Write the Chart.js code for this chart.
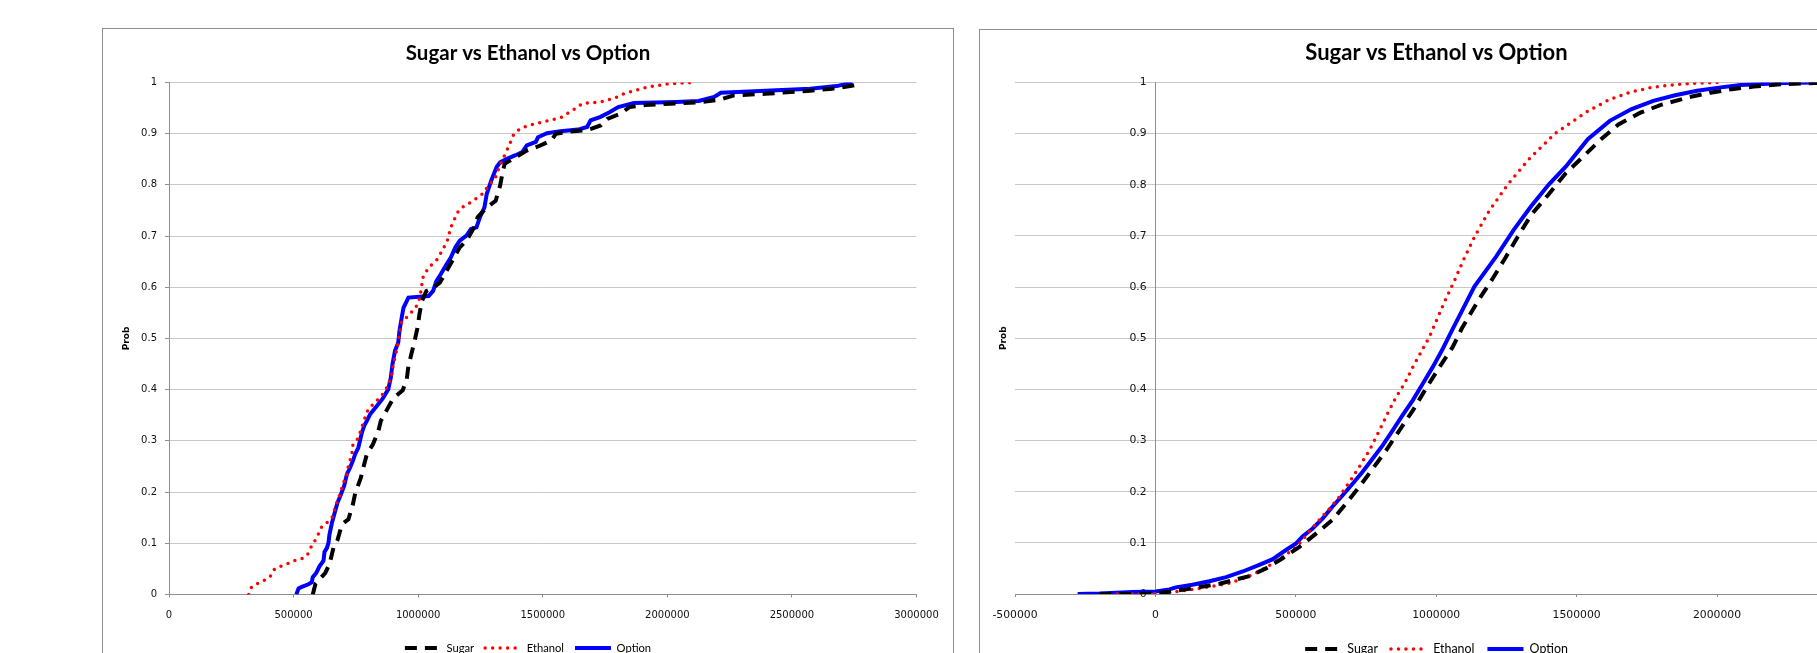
<!DOCTYPE html>
<html>
<head>
<meta charset="utf-8">
<script src="https://cdn.jsdelivr.net/npm/chart.js@4/dist/chart.umd.min.js"></script>
<style>
html, body { margin: 0; padding: 0; width: 1817px; height: 653px; overflow: hidden; background: #fff; }
.box { position: absolute; border: 1px solid #8e8e8e; background: #fff; }
#box1 { left: 102px; top: 28px; width: 850px; height: 645px; }
#box2 { left: 979px; top: 29px; width: 913px; height: 645px; }
canvas { display: block; }
</style>
</head>
<body>
<div class="box" id="box1"><canvas id="c1" width="850" height="645"></canvas></div>
<div class="box" id="box2"><canvas id="c2" width="913" height="645"></canvas></div>
<script>
// left chart: observed outcomes (step-like CDFs)
const sugarX1 = [577000, 588000, 627000, 644000, 660000, 676000, 694000, 720000, 738000, 747000, 770000, 780000, 794000, 818000, 840000, 850000, 876000, 900000, 938000, 954000, 961000, 974000, 987000, 997000, 1005000, 1015000, 1033000, 1060000, 1087000, 1114000, 1137000, 1167000, 1194000, 1221000, 1239000, 1275000, 1311000, 1329000, 1338000, 1347000, 1391000, 1436000, 1481000, 1535000, 1553000, 1624000, 1678000, 1732000, 1759000, 1812000, 1848000, 1911000, 2036000, 2143000, 2215000, 2268000, 2394000, 2573000, 2662000, 2734000, 2779000];
const sugarP1 = [0, 0.021, 0.042, 0.059, 0.091, 0.106, 0.137, 0.147, 0.176, 0.197, 0.228, 0.248, 0.274, 0.293, 0.319, 0.339, 0.362, 0.383, 0.399, 0.420, 0.446, 0.472, 0.498, 0.520, 0.547, 0.573, 0.593, 0.599, 0.609, 0.632, 0.652, 0.678, 0.691, 0.714, 0.737, 0.756, 0.769, 0.799, 0.822, 0.841, 0.854, 0.867, 0.875, 0.887, 0.900, 0.905, 0.907, 0.916, 0.929, 0.939, 0.952, 0.956, 0.959, 0.962, 0.967, 0.975, 0.978, 0.984, 0.988, 0.993, 0.998];

const ethanolX1 = [320000, 329000, 353000, 380000, 407000, 420000, 447000, 476000, 503000, 533000, 556000, 567000, 583000, 596000, 609000, 633000, 654000, 671000, 687000, 700000, 714000, 720000, 734000, 738000, 760000, 774000, 791000, 800000, 831000, 863000, 880000, 894000, 900000, 910000, 920000, 927000, 934000, 961000, 978000, 994000, 1007000, 1019000, 1042000, 1073000, 1096000, 1117000, 1131000, 1158000, 1176000, 1221000, 1257000, 1280000, 1311000, 1325000, 1347000, 1365000, 1382000, 1409000, 1445000, 1499000, 1571000, 1621000, 1660000, 1732000, 1786000, 1821000, 1866000, 1929000, 2000000, 2099000];
const ethanolP1 = [0, 0.013, 0.021, 0.027, 0.036, 0.048, 0.055, 0.060, 0.066, 0.070, 0.078, 0.090, 0.103, 0.114, 0.130, 0.140, 0.150, 0.176, 0.197, 0.218, 0.235, 0.251, 0.274, 0.292, 0.306, 0.327, 0.352, 0.362, 0.377, 0.394, 0.410, 0.430, 0.450, 0.469, 0.495, 0.515, 0.534, 0.544, 0.554, 0.564, 0.580, 0.619, 0.639, 0.652, 0.671, 0.691, 0.717, 0.746, 0.756, 0.769, 0.782, 0.797, 0.815, 0.835, 0.858, 0.877, 0.897, 0.910, 0.916, 0.923, 0.931, 0.946, 0.959, 0.962, 0.969, 0.977, 0.984, 0.992, 0.997, 1];

const optionX1 = [511000, 520000, 533000, 560000, 573000, 577000, 591000, 604000, 620000, 624000, 634000, 640000, 644000, 654000, 667000, 676000, 687000, 703000, 714000, 727000, 738000, 747000, 760000, 774000, 783000, 794000, 807000, 834000, 858000, 880000, 890000, 897000, 907000, 920000, 925000, 934000, 941000, 954000, 961000, 1042000, 1060000, 1073000, 1090000, 1114000, 1131000, 1149000, 1167000, 1194000, 1212000, 1234000, 1248000, 1266000, 1275000, 1293000, 1315000, 1329000, 1356000, 1391000, 1418000, 1436000, 1472000, 1481000, 1517000, 1571000, 1642000, 1678000, 1692000, 1732000, 1768000, 1803000, 1866000, 2036000, 2126000, 2188000, 2215000, 2394000, 2573000, 2680000, 2743000];
const optionP1 = [0, 0.012, 0.015, 0.020, 0.024, 0.034, 0.042, 0.055, 0.066, 0.083, 0.091, 0.101, 0.117, 0.140, 0.163, 0.179, 0.192, 0.212, 0.235, 0.248, 0.261, 0.274, 0.287, 0.316, 0.329, 0.339, 0.352, 0.368, 0.383, 0.401, 0.423, 0.450, 0.476, 0.492, 0.515, 0.541, 0.560, 0.573, 0.580, 0.583, 0.593, 0.612, 0.625, 0.645, 0.658, 0.678, 0.691, 0.701, 0.714, 0.717, 0.737, 0.756, 0.782, 0.808, 0.835, 0.844, 0.851, 0.858, 0.864, 0.877, 0.884, 0.893, 0.901, 0.905, 0.908, 0.913, 0.926, 0.933, 0.942, 0.952, 0.960, 0.962, 0.964, 0.972, 0.980, 0.984, 0.988, 0.993, 1];

// right chart: smooth CDFs
const sugarX2 = [-200000, -100000, 2000, 109000, 228000, 335000, 394000, 453000, 513000, 572000, 631000, 679000, 727000, 774000, 822000, 869000, 917000, 964000, 1012000, 1059000, 1092000, 1151000, 1198000, 1245000, 1291000, 1338000, 1400000, 1462000, 1525000, 1587000, 1649000, 1727000, 1805000, 1898000, 1976000, 2053000, 2131000, 2240000, 2346000, 2450000];
const sugarP2 = [0, 0, 0.001, 0.009, 0.020, 0.035, 0.050, 0.070, 0.092, 0.118, 0.145, 0.177, 0.210, 0.245, 0.281, 0.320, 0.359, 0.402, 0.444, 0.483, 0.520, 0.575, 0.614, 0.656, 0.699, 0.741, 0.781, 0.823, 0.856, 0.889, 0.918, 0.941, 0.957, 0.971, 0.980, 0.987, 0.992, 0.997, 0.999, 1];

const ethanolX2 = [-190000, -89000, 2000, 61000, 121000, 180000, 263000, 317000, 370000, 418000, 453000, 489000, 519000, 548000, 584000, 620000, 655000, 691000, 727000, 762000, 798000, 827000, 857000, 887000, 917000, 946000, 976000, 1027000, 1066000, 1097000, 1138000, 1190000, 1254000, 1330000, 1422000, 1478000, 1540000, 1618000, 1696000, 1773000, 1851000, 1929000, 2020000];
const ethanolP2 = [0, 0, 0.001, 0.004, 0.008, 0.013, 0.021, 0.031, 0.044, 0.060, 0.073, 0.086, 0.102, 0.122, 0.145, 0.167, 0.190, 0.219, 0.249, 0.281, 0.320, 0.353, 0.385, 0.411, 0.444, 0.473, 0.503, 0.568, 0.614, 0.653, 0.700, 0.750, 0.800, 0.850, 0.900, 0.921, 0.944, 0.967, 0.982, 0.991, 0.996, 0.999, 1];

const optionX2 = [-277000, -199000, -81000, 2000, 50000, 73000, 132000, 192000, 252000, 311000, 370000, 418000, 465000, 501000, 525000, 560000, 596000, 631000, 667000, 703000, 738000, 774000, 810000, 845000, 881000, 917000, 952000, 988000, 1024000, 1053000, 1136000, 1214000, 1276000, 1338000, 1400000, 1462000, 1540000, 1618000, 1696000, 1773000, 1851000, 1929000, 2007000, 2084000, 2162000, 2240000, 2346000, 2450000];
const optionP2 = [0, 0.001, 0.004, 0.005, 0.009, 0.013, 0.018, 0.025, 0.033, 0.044, 0.057, 0.068, 0.086, 0.099, 0.113, 0.128, 0.148, 0.171, 0.193, 0.216, 0.239, 0.265, 0.291, 0.320, 0.350, 0.379, 0.411, 0.444, 0.480, 0.512, 0.601, 0.660, 0.712, 0.758, 0.800, 0.836, 0.889, 0.925, 0.948, 0.964, 0.975, 0.984, 0.990, 0.995, 0.997, 0.999, 1, 1];

const chartTitle = 'Sugar vs Ethanol vs Option';
const yTitle = 'Prob';

Chart.defaults.font.family = 'DejaVu Sans';
Chart.defaults.color = '#111';

function pts(xs, ps) {
    return xs.map((x, i) => ({ x: x, y: ps[i] }));
}

function makeSets(sx, sp, ex, ep, ox, op) {
    return [
        { label: 'Sugar', data: pts(sx, sp), borderColor: '#000000', backgroundColor: '#000000',
          borderWidth: 4, borderDash: [12, 8], showLine: true, pointRadius: 0 },
        { label: 'Ethanol', data: pts(ex, ep), borderColor: '#ff0000', backgroundColor: '#ff0000',
          borderWidth: 3.5, borderDash: [0, 7.5], borderCapStyle: 'round', showLine: true, pointRadius: 0 },
        { label: 'Option', data: pts(ox, op), borderColor: '#0000ff', backgroundColor: '#0000ff',
          borderWidth: 4, showLine: true, pointRadius: 0 }
    ];
}

const gridColor = '#c8c8c8';
const axisColor = '#8e8e8e';
const fmtX = v => String(v);
const fmtY = v => String(Math.round(v * 10) / 10);
// the crossing axis gets almost no label gap from the library, so pad the text
const fmtYCross = v => fmtY(v) + '\u2002 ';

// legend samples should carry the dataset's dash pattern
function legendItems(chart) {
    return Chart.defaults.plugins.legend.labels.generateLabels(chart).map(item => {
        const ds = chart.data.datasets[item.datasetIndex];
        item.lineDash = ds.borderDash || [];
        item.lineCap = ds.borderCapStyle || 'butt';
        item.lineWidth = ds.borderWidth;
        item.strokeStyle = ds.borderColor;
        return item;
    });
}

function plugins(t) {
    return {
        title: { display: true, text: chartTitle, color: '#000',
                 font: { family: 'Lato', size: t.titleSize, weight: 'bold' },
                 padding: { top: t.titleTop, bottom: t.titleBottom } },
        legend: { position: 'bottom',
                  labels: { usePointStyle: true, pointStyle: 'line', pointStyleWidth: 36,
                            generateLabels: legendItems,
                            font: { family: 'Lato', size: t.legendSize }, color: '#000', padding: t.legendPad } },
        tooltip: { enabled: false }
    };
}

function xScale(min, max, t) {
    return { type: 'linear', min: min, max: max,
             ticks: { stepSize: 500000, font: { size: t.tickSize }, padding: t.xPad, maxRotation: 0,
                      autoSkip: false, callback: fmtX },
             grid: { drawOnChartArea: false, tickLength: 3, color: axisColor },
             border: { color: axisColor },
             afterFit: s => { s.height = t.xHeight; } };
}

// empty right-hand spacer so title and legend stay centred on the whole box
function spacer(w) {
    return { position: 'right', min: 0, max: 1,
             ticks: { display: false }, grid: { display: false }, border: { display: false },
             afterFit: s => { s.width = w; } };
}

const probTitle = { display: true, text: yTitle, color: '#000',
                    font: { family: 'DejaVu Sans', size: 9, weight: 'bold' }, padding: { top: 18 } };

const left = { titleSize: 20.5, titleTop: 11.7, titleBottom: 17.2, legendSize: 11.2, legendPad: 11,
               tickSize: 10, xPad: 12, xHeight: 36.9, bottom: 10.4 };
const right = { titleSize: 22, titleTop: 9.8, titleBottom: 16.3, legendSize: 12.4, legendPad: 13,
                tickSize: 10.8, xPad: 11.5, xHeight: 35.8, bottom: 9.8 };

// left chart
new Chart(document.getElementById('c1'), {
    type: 'scatter',
    data: { datasets: makeSets(sugarX1, sugarP1, ethanolX1, ethanolP1, optionX1, optionP1) },
    options: {
        responsive: false, animation: false,
        layout: { padding: { left: 0, right: 0, top: 0, bottom: left.bottom } },
        plugins: plugins(left),
        scales: {
            x: xScale(0, 3000000, left),
            y: { min: 0, max: 1,
                 ticks: { stepSize: 0.1, font: { size: left.tickSize }, padding: 8, callback: fmtY },
                 grid: { color: gridColor, tickColor: axisColor, tickLength: 4 },
                 border: { color: axisColor },
                 title: probTitle,
                 afterFit: s => { s.width = 66; } },
            yPad: spacer(36.5)
        }
    }
});

// right chart
new Chart(document.getElementById('c2'), {
    type: 'scatter',
    data: { datasets: makeSets(sugarX2, sugarP2, ethanolX2, ethanolP2, optionX2, optionP2) },
    options: {
        responsive: false, animation: false,
        layout: { padding: { left: 0, right: 0, top: 0, bottom: right.bottom } },
        plugins: plugins(right),
        scales: {
            x: xScale(-500000, 2500000, right),
            y: { position: { x: 0 }, min: 0, max: 1,
                 ticks: { stepSize: 0.1, font: { size: right.tickSize }, callback: fmtYCross },
                 grid: { drawOnChartArea: false, color: axisColor, tickLength: 5 },
                 border: { color: axisColor } },
            yTitle: { position: 'left', min: 0, max: 1,
                      ticks: { display: false, stepSize: 0.1 },
                      grid: { color: gridColor, drawTicks: false },
                      border: { display: false },
                      title: probTitle,
                      afterFit: s => { s.width = 35; } },
            yPad: spacer(35.6)
        }
    }
});
</script>
</body>
</html>
